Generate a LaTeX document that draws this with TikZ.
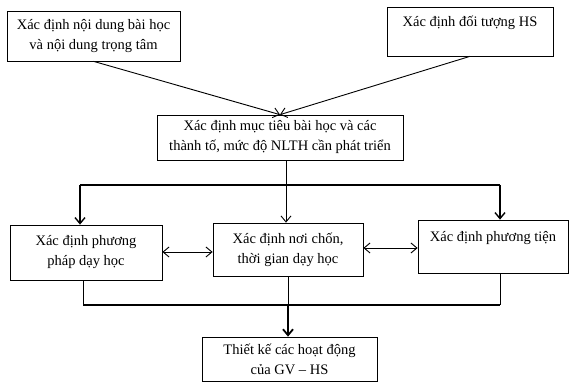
\documentclass[tikz,border=0pt]{standalone}
\usepackage{fontspec}
\setmainfont{Liberation Serif}
\usetikzlibrary{arrows.meta}
\begin{document}
\begin{tikzpicture}[x=1pt, y=-1pt, >={Straight Barb[length=6pt,width=10pt]},
  box/.style={draw, line width=0.7pt, align=center, font=\fontsize{14.5}{20}\selectfont, inner sep=2pt},
  link/.style={line width=0.9pt},
  bus/.style={line width=1.4pt}]
\useasboundingbox (0,0) rectangle (574,382);
% top row
\node[box, minimum width=173pt, minimum height=50pt] (content) at (93.5,36) {Xác định nội dung bài học\\và nội dung trọng tâm};
\node[box, minimum width=166pt, minimum height=49pt] (learners) at (470,31.5) {Xác định đối tượng HS\\\mbox{}};
% objectives
\node[box, minimum width=246pt, minimum height=45pt] (goals) at (280,137.5) {Xác định mục tiêu bài học và các\\thành tố, mức độ NLTH cần phát triển};
% middle row
\node[box, minimum width=152pt, minimum height=55pt] (method) at (86,252.5) {Xác định phương\\pháp dạy học};
\node[box, minimum width=150pt, minimum height=53pt] (place) at (288,249.5) {Xác định nơi chốn,\\thời gian dạy học};
\node[box, minimum width=150pt, minimum height=53pt] (means) at (493,246.5) {Xác định phương tiện\\\mbox{}};
% result
\node[box, minimum width=175pt, minimum height=44pt] (design) at (289.5,359) {Thiết kế các hoạt động\\của GV -- HS};
\draw[link, ->] (content.south) -- (goals.north);
\draw[link, ->] (learners.south) -- (goals.north);
% split below the objectives
\coordinate (split) at (286,185);
\draw[link] (goals.south -| split) -- (split);
\draw[bus] (80,185) -- (500,185);
\draw[link, ->] (split) -- (place.north -| split);
\draw[bus, ->] (80,185) -- (method.north -| 80,0);
\draw[bus, ->] (500,185) -- (means.north -| 500,0);
\draw[link, <->] (method.east |- 0,252) -- (place.west |- 0,252);
\draw[link, <->] (place.east |- 0,248) -- (means.west |- 0,248);
% merge towards the design
\coordinate (merge) at (288,305);
\draw[link] (method.south -| 83,0) -- (83,305);
\draw[link] (means.south -| 500,0) -- (500,305);
\draw[bus] (83,305) -- (500,305);
\draw[link] (place.south -| merge) -- (merge);
\draw[->, line width=1.8pt] (merge) -- (design.north -| merge);
\end{tikzpicture}
\end{document}
